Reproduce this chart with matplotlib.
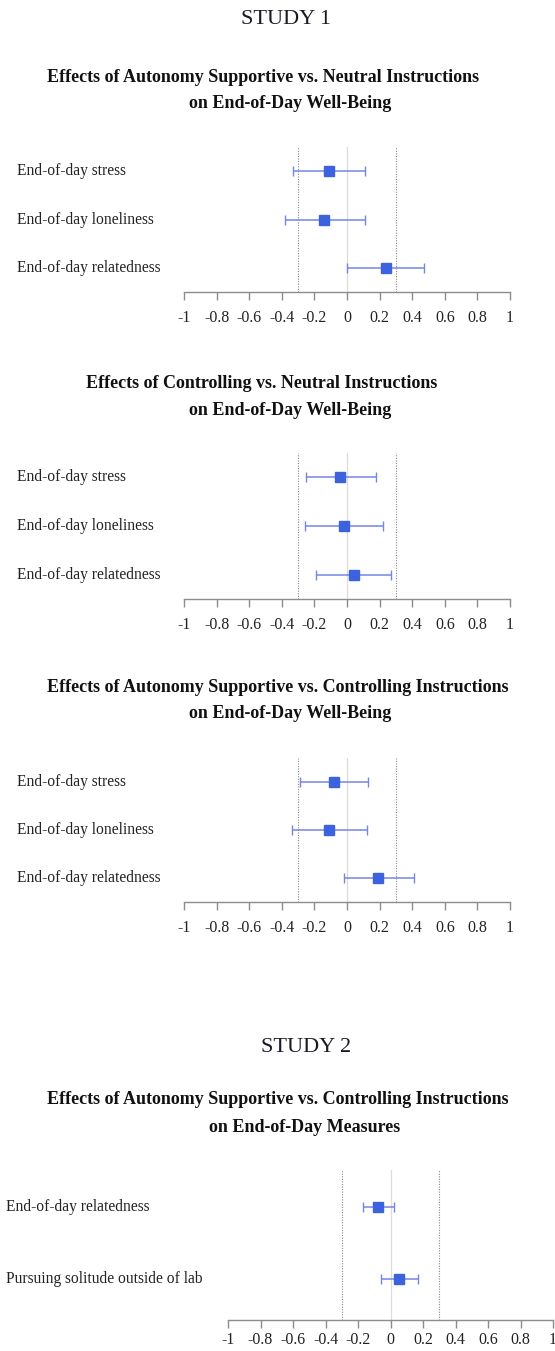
import matplotlib
matplotlib.use("Agg")
import matplotlib.pyplot as plt
from matplotlib.transforms import blended_transform_factory

plt.rcParams['font.family'] = ['Liberation Serif', 'DejaVu Serif']

W, H = 555, 1351

# data (effect size, lower CI, upper CI)
labels_s1 = ['End-of-day stress', 'End-of-day loneliness', 'End-of-day relatedness']
labels_s2 = ['End-of-day relatedness', 'Pursuing solitude outside of lab']

est_aut_neu = [-0.11, -0.14, 0.24]
lo_aut_neu = [-0.33, -0.38, 0.00]
hi_aut_neu = [0.11, 0.11, 0.47]

est_con_neu = [-0.04, -0.02, 0.04]
lo_con_neu = [-0.25, -0.26, -0.19]
hi_con_neu = [0.18, 0.22, 0.27]

est_aut_con = [-0.08, -0.11, 0.19]
lo_aut_con = [-0.29, -0.34, -0.02]
hi_aut_con = [0.13, 0.12, 0.41]

est_s2 = [-0.08, 0.05]
lo_s2 = [-0.17, -0.06]
hi_s2 = [0.02, 0.17]

ticks = [-1, -0.8, -0.6, -0.4, -0.2, 0, 0.2, 0.4, 0.6, 0.8, 1]
tick_labels = ['-1', '-0.8', '-0.6', '-0.4', '-0.2', '0', '0.2', '0.4', '0.6', '0.8', '1']
ref_lines = [-0.3, 0.3]

fig = plt.figure(figsize=(W / 100, H / 100), dpi=100)


def fx(x):
    return x / W


def fy(y):
    return 1 - y / H


def forest(labels, est, lo, hi, axis_y, top_y, x0, x1, label_x,
           pad_top=0.5, pad_bot=0.5, tick_pad=7):
    ax = fig.add_axes([fx(x0), fy(axis_y), fx(x1 - x0), (axis_y - top_y) / H])
    n = len(labels)
    ys = list(range(n))
    ax.set_xlim(-1, 1)
    ax.set_ylim(n - 1 + pad_bot, -pad_top)
    ax.axvline(0, color='#dcdcdc', lw=0.9, zorder=1)
    for r in ref_lines:
        ax.axvline(r, color='#8a8a8a', lw=0.8, ls=(0, (1, 1.3)), zorder=1)
    xerr = [[e - l for e, l in zip(est, lo)], [h - e for e, h in zip(est, hi)]]
    ax.errorbar(est, ys, xerr=xerr, fmt='s', color='#3d62de', ecolor='#7386e4',
                elinewidth=1.1, capsize=3.6, capthick=1.0, markersize=6.6, zorder=3)
    for sp in ['top', 'right', 'left']:
        ax.spines[sp].set_visible(False)
    ax.spines['bottom'].set_color('#8c8c8c')
    ax.spines['bottom'].set_linewidth(1.0)
    ax.set_yticks([])
    ax.set_xticks(ticks)
    ax.set_xticklabels(tick_labels)
    ax.tick_params(axis='x', direction='out', length=6, width=1.0, color='#8c8c8c',
                   labelsize=11.5, pad=tick_pad, labelcolor='#222222')
    ax.patch.set_alpha(0)
    tr = blended_transform_factory(fig.transFigure, ax.transData)
    for i, lab in enumerate(labels):
        ax.text(fx(label_x), i, lab, transform=tr, ha='left', va='center',
                fontsize=11.2, color='#222222')
    return ax


def title(line1, c1, y1, line2, c2, y2):
    fig.text(fx(c1), fy(y1), line1, ha='center', va='center', fontsize=13,
             fontweight='bold', color='#111111')
    fig.text(fx(c2), fy(y2), line2, ha='center', va='center', fontsize=13,
             fontweight='bold', color='#111111')


# Study 1
fig.text(fx(286), fy(19), 'STUDY 1', ha='center', va='center', fontsize=16, color='#1a1a24')

title('Effects of Autonomy Supportive vs. Neutral Instructions', 263, 77,
      'on End-of-Day Well-Being', 290, 103)
forest(labels_s1, est_aut_neu, lo_aut_neu, hi_aut_neu, 292, 147, 184, 510, 17)

title('Effects of Controlling vs. Neutral Instructions', 262, 383,
      'on End-of-Day Well-Being', 290, 410)
forest(labels_s1, est_con_neu, lo_con_neu, hi_con_neu, 599, 453, 184, 510, 17)

title('Effects of Autonomy Supportive vs. Controlling Instructions', 278, 688,
      'on End-of-Day Well-Being', 290, 714)
forest(labels_s1, est_aut_con, lo_aut_con, hi_aut_con, 902, 758, 184, 510, 17)

# Study 2
fig.text(fx(306), fy(1047), 'STUDY 2', ha='center', va='center', fontsize=16, color='#1a1a24')

title('Effects of Autonomy Supportive vs. Controlling Instructions', 278, 1100,
      'on End-of-Day Measures', 305, 1127)
forest(labels_s2, est_s2, lo_s2, hi_s2, 1320, 1170, 228, 553, 6,
       pad_top=0.51, pad_bot=0.57, tick_pad=2.5)

fig.savefig('out.png', dpi=100)
